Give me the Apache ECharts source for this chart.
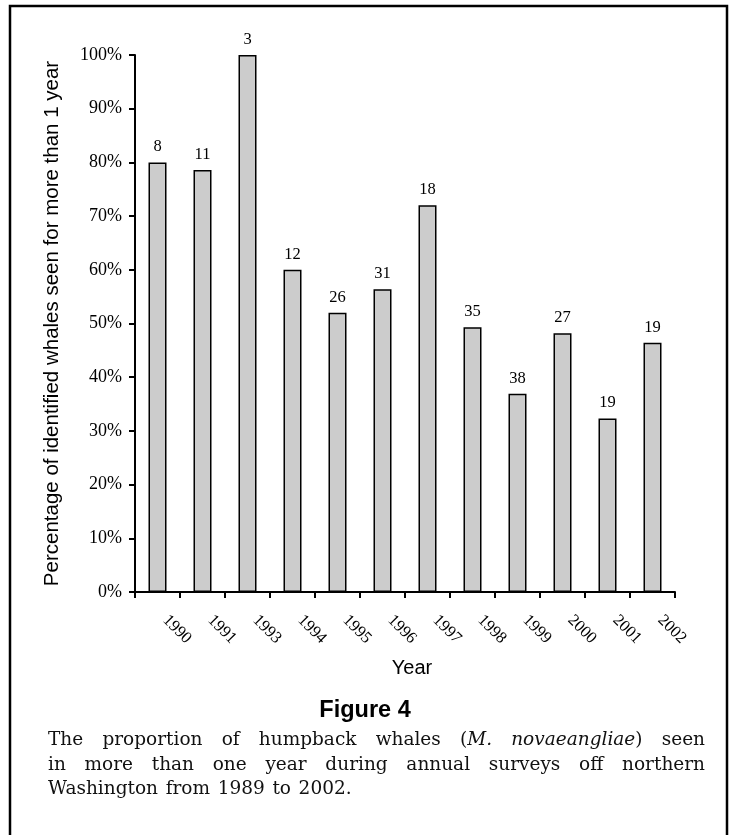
<!DOCTYPE html>
<html>
<head>
<meta charset="utf-8">
<script src="https://cdn.jsdelivr.net/npm/echarts@6/dist/echarts.min.js"></script>
<style>
  html, body { margin: 0; padding: 0; background: #fff; }
  #chart { width: 729px; height: 835px; }
</style>
</head>
<body>
<div id="chart"></div>
<script>
const years = ['1990', '1991', '1993', '1994', '1995', '1996', '1997', '1998', '1999', '2000', '2001', '2002']
const percentSeen = [80, 78.6, 100, 60, 52, 56.4, 72, 49.3, 36.9, 48.2, 32.3, 46.4]
const whaleCounts = [8, 11, 3, 12, 26, 31, 18, 35, 38, 27, 19, 19]
const yTicks = { min: 0, max: 100, step: 10 }

const figureTitle = 'Figure 4'
// {i|...} marks italic runs
const captionLines = [
  'The proportion of humpback whales ({i|M.} {i|novaeangliae}) seen',
  'in more than one year during annual surveys off northern',
  'Washington from 1989 to 2002.',
]

const serif = '"Liberation Serif", "Times New Roman", serif'
const sans = '"Liberation Sans", Arial, sans-serif'
const capFont = '"DejaVu Serif", serif'
const capSize = 18.5

const measureCtx = document.createElement('canvas').getContext('2d')
function wordWidth(word) {
  let w = 0
  word.split(/(\{i\|[^}]*\})/).forEach((part) => {
    if (!part) return
    const m = part.match(/^\{i\|([^}]*)\}$/)
    measureCtx.font = (m ? 'italic ' : '') + capSize + 'px ' + capFont
    w += measureCtx.measureText(m ? m[1] : part).width
  })
  return w
}

function captionGraphics() {
  const left = 48, right = 705, top = 731, lineGap = 24.5
  const out = []
  captionLines.forEach((line, li) => {
    const words = line.split(' ')
    const widths = words.map(wordWidth)
    const total = widths.reduce((a, b) => a + b, 0)
    const justify = li < captionLines.length - 1
    const gap = justify ? (right - left - total) / (words.length - 1) : wordWidth(' ') * 1.3
    let x = left
    words.forEach((word, wi) => {
      out.push({
        type: 'text',
        x, y: top + li * lineGap,
        style: {
          text: word,
          fontFamily: capFont, fontSize: capSize, fill: '#111',
          rich: { i: { fontFamily: capFont, fontSize: capSize, fontStyle: 'italic', fill: '#111' } },
        },
      })
      x += widths[wi] + gap
    })
  })
  return out
}

const chart = echarts.init(document.getElementById('chart'))
chart.setOption({
  animation: false,
  grid: { left: 135, right: 54, top: 55, bottom: 243 },
  xAxis: {
    type: 'category',
    data: years,
    name: 'Year',
    nameLocation: 'middle',
    nameGap: 66,
    nameTextStyle: { fontFamily: sans, fontSize: 20, color: '#000', padding: [0, 0, 0, 14] },
    axisLine: { lineStyle: { color: '#000', width: 2 } },
    axisTick: { show: true, length: 6, lineStyle: { color: '#000', width: 2 } },
    axisLabel: { rotate: -45, margin: 18, padding: [0, 0, 0, 11], fontFamily: serif, fontSize: 16.5, color: '#000' },
  },
  yAxis: {
    type: 'value',
    min: yTicks.min,
    max: yTicks.max,
    interval: yTicks.step,
    name: 'Percentage of identified whales seen for more than 1 year',
    nameLocation: 'middle',
    nameGap: 72,
    nameTextStyle: { fontFamily: sans, fontSize: 20.5, color: '#000' },
    axisLine: { show: true, lineStyle: { color: '#000', width: 2 } },
    axisTick: { show: true, length: 6, lineStyle: { color: '#000', width: 2 } },
    axisLabel: { formatter: '{value}%', margin: 13, fontFamily: serif, fontSize: 18, color: '#000' },
    splitLine: { show: false },
  },
  series: [{
    type: 'bar',
    data: percentSeen,
    barWidth: '40%',
    itemStyle: { color: '#cccccc', borderColor: '#000', borderWidth: 1.5 },
    label: {
      show: true,
      position: 'top',
      distance: 7,
      fontFamily: serif,
      fontSize: 16.5,
      color: '#000',
      formatter: (p) => String(whaleCounts[p.dataIndex]),
    },
  }],
  graphic: [
    {
      type: 'rect',
      shape: { x: 10, y: 6, width: 717, height: 850 },
      style: { fill: 'none', stroke: '#000', lineWidth: 2.5 },
    },
    {
      type: 'text',
      x: 365, y: 699,
      style: { text: figureTitle, fontFamily: sans, fontWeight: 'bold', fontSize: 23.5, fill: '#000', align: 'center' },
    },
    ...captionGraphics(),
  ],
})
</script>
</body>
</html>
